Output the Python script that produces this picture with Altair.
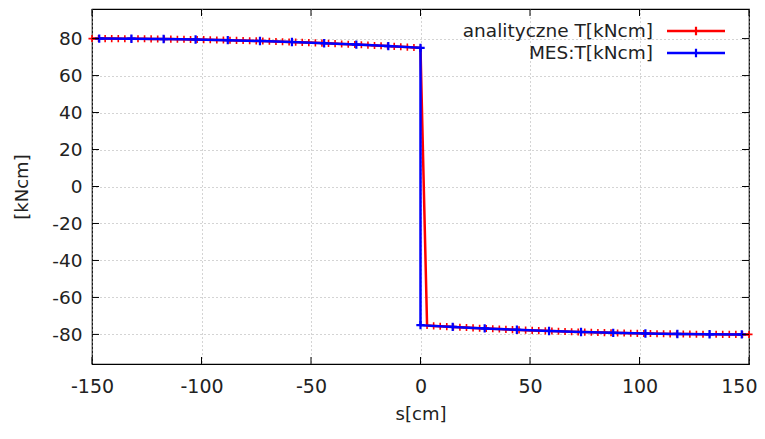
import altair as alt
import pandas as pd

series_names = ["analityczne T[kNcm]", "MES:T[kNcm]"]
series_colors = ["#ff0000", "#0000ff"]

red_s = [-150, -147, -144, -141, -138, -135, -132, -129, -126, -123, -120, -117, -114, -111, -108,
         -105, -102, -99, -96, -93, -90, -87, -84, -81, -78, -75, -72, -69, -66, -63, -60, -57, -54,
         -51, -48, -45, -42, -39, -36, -33, -30, -27, -24, -21, -18, -15, -12, -9, -6, -3, 0,
         3, 6, 9, 12, 15, 18, 21, 24, 27, 30, 33, 36, 39, 42, 45, 48, 51, 54, 57, 60, 63, 66, 69,
         72, 75, 78, 81, 84, 87, 90, 93, 96, 99, 102, 105, 108, 111, 114, 117, 120, 123, 126, 129,
         132, 135, 138, 141, 144, 147, 150]
red_T = [80.00, 80.00, 79.99, 79.98, 79.97, 79.95, 79.93, 79.90, 79.87, 79.84, 79.80, 79.76, 79.71,
         79.66, 79.61, 79.55, 79.49, 79.42, 79.35, 79.28, 79.20, 79.12, 79.03, 78.94, 78.85, 78.75,
         78.65, 78.54, 78.43, 78.32, 78.20, 78.08, 77.95, 77.82, 77.69, 77.55, 77.41, 77.26, 77.11,
         76.96, 76.80, 76.64, 76.47, 76.30, 76.13, 75.95, 75.77, 75.58, 75.39, 75.20, 75.00,
         -75.20, -75.39, -75.58, -75.77, -75.95, -76.13, -76.30, -76.47, -76.64, -76.80, -76.96,
         -77.11, -77.26, -77.41, -77.55, -77.69, -77.82, -77.95, -78.08, -78.20, -78.32, -78.43,
         -78.54, -78.65, -78.75, -78.85, -78.94, -79.03, -79.12, -79.20, -79.28, -79.35, -79.42,
         -79.49, -79.55, -79.61, -79.66, -79.71, -79.76, -79.80, -79.84, -79.87, -79.90, -79.93,
         -79.95, -79.97, -79.98, -79.99, -80.00, -80.00]

blue_s = [-146.7, -132.0, -117.3, -102.7, -88.0, -73.3, -58.7, -44.0, -29.3, -14.7, 0.0,
          0.0, 14.7, 29.3, 44.0, 58.7, 73.3, 88.0, 102.7, 117.3, 132.0, 146.7]
blue_T = [80.00, 79.93, 79.76, 79.50, 79.15, 78.69, 78.15, 77.50, 76.76, 75.93, 75.00,
          -75.00, -75.93, -76.76, -77.50, -78.15, -78.69, -79.15, -79.50, -79.76, -79.93, -80.00]

x_ticks = [-150, -100, -50, 0, 50, 100, 150]
y_ticks = [-80, -60, -40, -20, 0, 20, 40, 60, 80]

W, H = 657, 355
FONT = "DejaVu Sans"
TXT = "#222222"

red_df = pd.DataFrame({"s": red_s, "T": red_T})
blue_df = pd.DataFrame({"s": blue_s, "T": blue_T, "idx": list(range(len(blue_s)))})
xt_df = pd.DataFrame({"s": x_ticks})
yt_df = pd.DataFrame({"T": y_ticks})
leg_df = pd.DataFrame({"label": series_names, "color": series_colors})

xscale = alt.Scale(domain=[-150, 150], nice=False, zero=False)
yscale = alt.Scale(domain=[-96, 96], nice=False, zero=False)

plus = "M-1,0L1,0M0,-1L0,1"

last_x = "datum.value == %d" % x_ticks[-1]
x_axis = alt.Axis(values=x_ticks, grid=True, gridDash=[1, 3], gridColor="#a8a8a8",
                  domain=False, ticks=False, tickSize=0, labelFont=FONT, labelFontSize=19,
                  labelColor=TXT, labelPadding=22, labelBaseline="middle",
                  labelAlign={"condition": {"test": last_x, "value": "right"}, "value": "center"},
                  labelOffset={"condition": {"test": last_x, "value": 8}, "value": 0},
                  labelFlush=False, labelOverlap=False, labelExpr="toString(datum.value)",
                  title="s[cm]", titleFont=FONT, titleFontSize=18, titleFontWeight="normal",
                  titleColor=TXT, titleY=50, titleBaseline="middle")
y_axis = alt.Axis(values=y_ticks, grid=True, gridDash=[1, 3], gridColor="#a8a8a8",
                  domain=False, ticks=False, tickSize=0, labelFont=FONT, labelFontSize=18.5,
                  labelColor=TXT, labelPadding=10, labelFlush=False, labelOverlap=False,
                  labelExpr="toString(datum.value)",
                  title="[kNcm]", titleFont=FONT, titleFontSize=18, titleFontWeight="normal",
                  titleColor=TXT, titleX=-70, titleY=H / 2, titleAngle=270,
                  titleAlign="center", titleBaseline="middle")

X = alt.X("s:Q", scale=xscale, axis=x_axis)
Y = alt.Y("T:Q", scale=yscale, axis=y_axis)

red_line = alt.Chart(red_df).mark_line(color=series_colors[0], strokeWidth=2.5).encode(x=X, y=Y)
red_pts = alt.Chart(red_df).mark_point(shape=plus, filled=False, color=series_colors[0],
                                       strokeWidth=1.6, size=50, opacity=1).encode(x=X, y=Y)
blue_line = alt.Chart(blue_df).mark_line(color=series_colors[1], strokeWidth=2.5).encode(
    x=X, y=Y, order=alt.Order("idx:Q"))
blue_pts = alt.Chart(blue_df).mark_point(shape=plus, filled=False, color=series_colors[1],
                                         strokeWidth=2.2, size=70, opacity=1).encode(x=X, y=Y)

tick_len = 7
xt_bottom = alt.Chart(xt_df).mark_rule(color="black", strokeWidth=1).encode(
    x=X, y=alt.value(H), y2=alt.value(H - tick_len))
xt_top = alt.Chart(xt_df).mark_rule(color="black", strokeWidth=1).encode(
    x=X, y=alt.value(0), y2=alt.value(tick_len))
yt_left = alt.Chart(yt_df).mark_rule(color="black", strokeWidth=1).encode(
    y=Y, x=alt.value(0), x2=alt.value(tick_len))
yt_right = alt.Chart(yt_df).mark_rule(color="black", strokeWidth=1).encode(
    y=Y, x=alt.value(W), x2=alt.value(W - tick_len))

leg_layers = []
leg_y = [22, 44]
for i, name in enumerate(series_names):
    base = alt.Chart(leg_df).transform_filter(alt.datum.label == name)
    leg_layers.append(base.mark_text(align="right", baseline="middle", font=FONT, fontSize=18.5,
                                     color=TXT).encode(
        text="label:N", x=alt.value(561), y=alt.value(leg_y[i])))
    leg_layers.append(base.mark_rule(color=series_colors[i], strokeWidth=2.5).encode(
        x=alt.value(575), x2=alt.value(633), y=alt.value(leg_y[i])))
    leg_layers.append(base.mark_point(shape=plus, filled=False, color=series_colors[i],
                                      strokeWidth=2.2, size=70, opacity=1).encode(
        x=alt.value(604), y=alt.value(leg_y[i])))

chart = alt.layer(
    red_line, red_pts, blue_line, blue_pts,
    xt_bottom, xt_top, yt_left, yt_right,
    *leg_layers,
).properties(
    width=W, height=H,
    autosize=alt.AutoSizeParams(type="none"),
    padding={"left": 84, "top": 1, "right": 8, "bottom": 67},
    background="white",
).configure_view(stroke="black", strokeWidth=1.2)

chart.save("out.html", embed_options={"renderer": "svg", "actions": False})
